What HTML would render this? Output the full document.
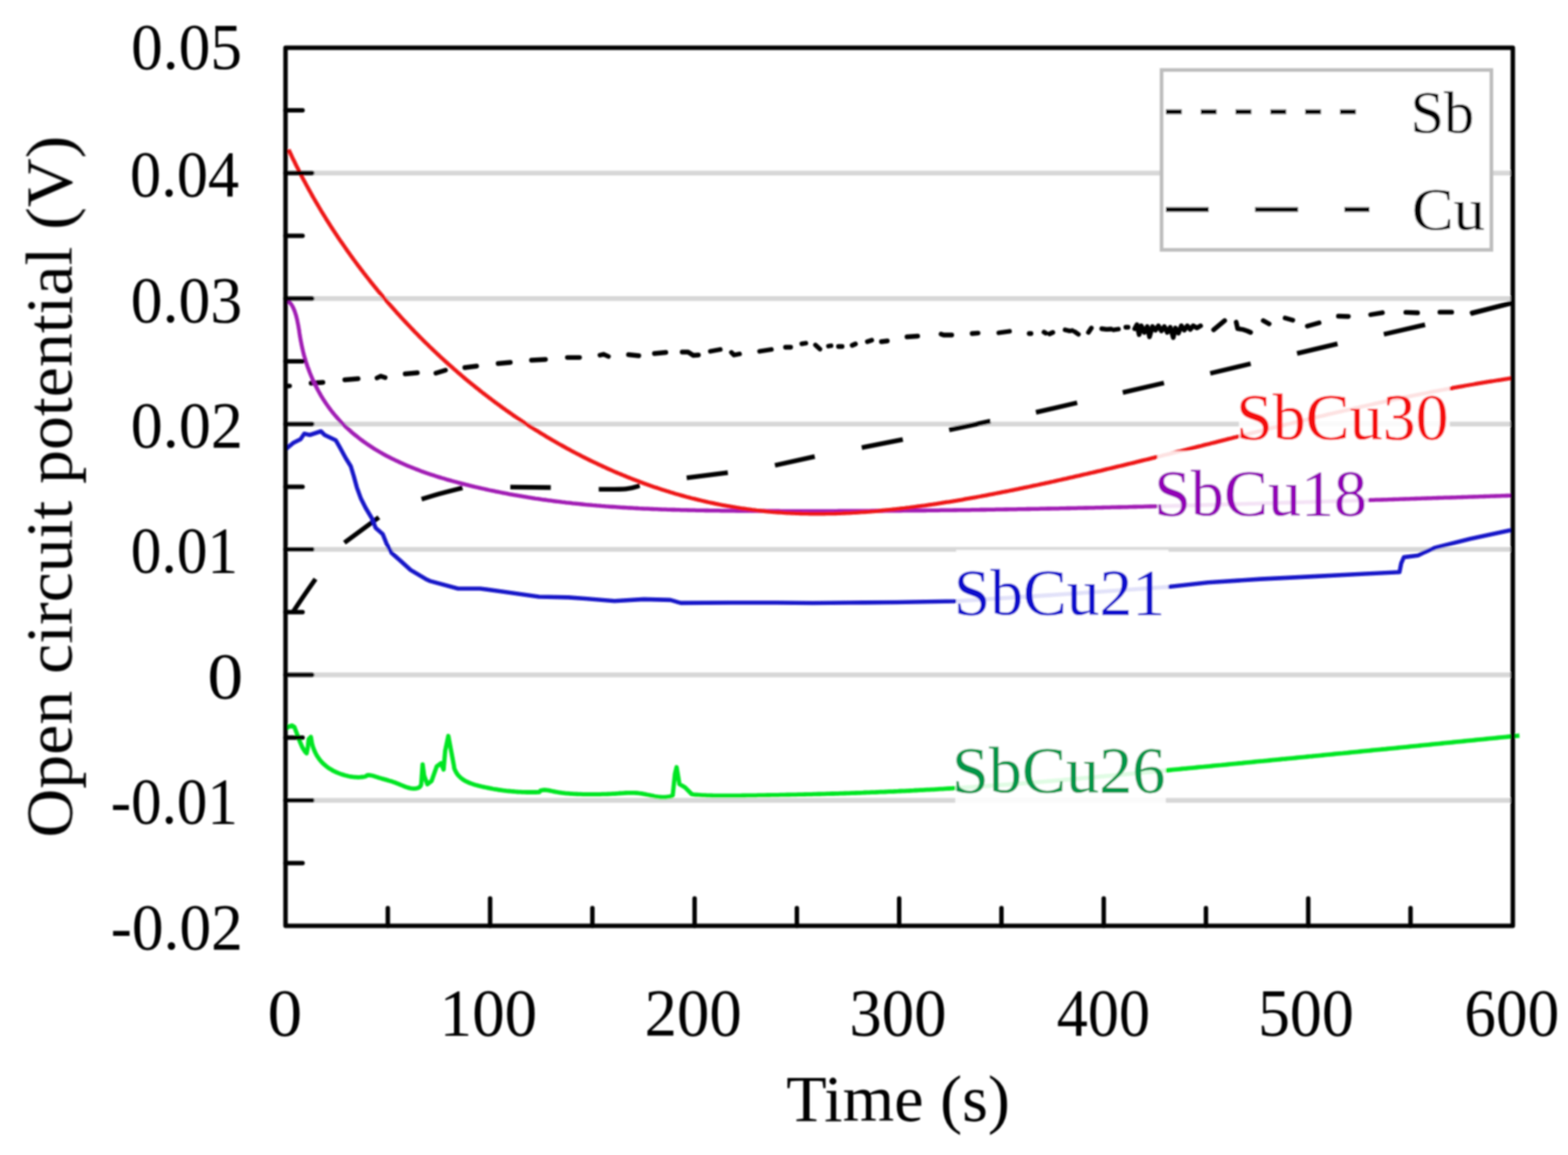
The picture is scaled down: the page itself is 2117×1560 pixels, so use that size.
<!DOCTYPE html>
<html><head><meta charset="utf-8"><title>Open circuit potential vs time</title>
<style>html,body{margin:0;padding:0;background:#fff;}svg{display:block;}</style>
</head><body>
<svg width="2117" height="1560" viewBox="0 0 2117 1560">
<defs><filter id="soft" x="-1%" y="-1%" width="102%" height="102%"><feGaussianBlur stdDeviation="1.3"/></filter></defs>
<rect x="0" y="0" width="2117" height="1560" fill="#fff"/>
<g filter="url(#soft)">
<line x1="387.5" y1="233.8" x2="2040.5" y2="233.8" stroke="#d7d7d7" stroke-width="6.5"/>
<line x1="387.5" y1="403.3" x2="2040.5" y2="403.3" stroke="#d7d7d7" stroke-width="6.5"/>
<line x1="387.5" y1="572.7" x2="2040.5" y2="572.7" stroke="#d7d7d7" stroke-width="6.5"/>
<line x1="387.5" y1="742.1" x2="2040.5" y2="742.1" stroke="#d7d7d7" stroke-width="6.5"/>
<line x1="387.5" y1="911.5" x2="2040.5" y2="911.5" stroke="#d7d7d7" stroke-width="6.5"/>
<line x1="387.5" y1="1081.0" x2="2040.5" y2="1081.0" stroke="#d7d7d7" stroke-width="6.5"/>
<path d="M386.5,521.3 L391.0,521.3" fill="none" stroke="#000" stroke-width="6.3" stroke-linecap="round" stroke-linejoin="round"/>
<path d="M420.0,517.5 L436.0,516.5" fill="none" stroke="#000" stroke-width="6.3" stroke-linecap="round" stroke-linejoin="round"/>
<path d="M465.5,513.0 L483.5,511.5" fill="none" stroke="#000" stroke-width="6.3" stroke-linecap="round" stroke-linejoin="round"/>
<path d="M509.0,510.5 L514.0,508.0 L520.0,510.0" fill="none" stroke="#000" stroke-width="6.3" stroke-linecap="round" stroke-linejoin="round"/>
<path d="M547.0,505.0 L563.5,503.5" fill="none" stroke="#000" stroke-width="6.3" stroke-linecap="round" stroke-linejoin="round"/>
<path d="M588.5,504.0 L601.5,500.0" fill="none" stroke="#000" stroke-width="6.3" stroke-linecap="round" stroke-linejoin="round"/>
<path d="M627.5,496.5 L643.5,494.5" fill="none" stroke="#000" stroke-width="6.3" stroke-linecap="round" stroke-linejoin="round"/>
<path d="M672.5,491.0 L689.0,489.5" fill="none" stroke="#000" stroke-width="6.3" stroke-linecap="round" stroke-linejoin="round"/>
<path d="M717.5,486.5 L736.5,485.5" fill="none" stroke="#000" stroke-width="6.3" stroke-linecap="round" stroke-linejoin="round"/>
<path d="M766.0,482.8 L782.5,482.8" fill="none" stroke="#000" stroke-width="6.3" stroke-linecap="round" stroke-linejoin="round"/>
<path d="M810.0,479.8 L815.0,478.5 L821.5,481.5" fill="none" stroke="#000" stroke-width="6.3" stroke-linecap="round" stroke-linejoin="round"/>
<path d="M848.5,479.0 L862.5,480.5" fill="none" stroke="#000" stroke-width="6.3" stroke-linecap="round" stroke-linejoin="round"/>
<path d="M883.5,477.5 L899.0,476.0" fill="none" stroke="#000" stroke-width="6.3" stroke-linecap="round" stroke-linejoin="round"/>
<path d="M921.0,475.5 L929.0,475.5 L936.0,480.0 L943.0,479.5" fill="none" stroke="#000" stroke-width="6.3" stroke-linecap="round" stroke-linejoin="round"/>
<path d="M959.0,474.5 L972.5,472.0" fill="none" stroke="#000" stroke-width="6.3" stroke-linecap="round" stroke-linejoin="round"/>
<path d="M987.5,476.0 L991.0,479.5 L998.5,478.0" fill="none" stroke="#000" stroke-width="6.3" stroke-linecap="round" stroke-linejoin="round"/>
<path d="M1025.5,474.5 L1041.5,472.0" fill="none" stroke="#000" stroke-width="6.3" stroke-linecap="round" stroke-linejoin="round"/>
<path d="M1060.5,469.0 L1067.5,469.0" fill="none" stroke="#000" stroke-width="6.3" stroke-linecap="round" stroke-linejoin="round"/>
<path d="M1082.5,464.3 L1088.0,463.5" fill="none" stroke="#000" stroke-width="6.3" stroke-linecap="round" stroke-linejoin="round"/>
<path d="M1101.0,466.0 L1107.0,471.5" fill="none" stroke="#000" stroke-width="6.3" stroke-linecap="round" stroke-linejoin="round"/>
<path d="M1118.5,467.5 L1122.0,467.0" fill="none" stroke="#000" stroke-width="6.3" stroke-linecap="round" stroke-linejoin="round"/>
<path d="M1132.0,468.0 L1137.0,468.0" fill="none" stroke="#000" stroke-width="6.3" stroke-linecap="round" stroke-linejoin="round"/>
<path d="M1150.5,466.5 L1155.0,464.5" fill="none" stroke="#000" stroke-width="6.3" stroke-linecap="round" stroke-linejoin="round"/>
<path d="M1171.0,461.5 L1177.0,459.5" fill="none" stroke="#000" stroke-width="6.3" stroke-linecap="round" stroke-linejoin="round"/>
<path d="M1190.0,461.5 L1198.0,460.5" fill="none" stroke="#000" stroke-width="6.3" stroke-linecap="round" stroke-linejoin="round"/>
<path d="M1224.5,455.0 L1239.0,454.0" fill="none" stroke="#000" stroke-width="6.3" stroke-linecap="round" stroke-linejoin="round"/>
<path d="M1270.5,451.2 L1274.0,452.5 L1285.0,452.5" fill="none" stroke="#000" stroke-width="6.3" stroke-linecap="round" stroke-linejoin="round"/>
<path d="M1312.5,450.5 L1320.5,449.8" fill="none" stroke="#000" stroke-width="6.3" stroke-linecap="round" stroke-linejoin="round"/>
<path d="M1348.5,449.5 L1363.0,447.5" fill="none" stroke="#000" stroke-width="6.3" stroke-linecap="round" stroke-linejoin="round"/>
<path d="M1389.5,450.5 L1392.0,450.5" fill="none" stroke="#000" stroke-width="6.3" stroke-linecap="round" stroke-linejoin="round"/>
<path d="M1409.5,448.5 L1412.0,450.0" fill="none" stroke="#000" stroke-width="6.3" stroke-linecap="round" stroke-linejoin="round"/>
<path d="M1417.0,451.0 L1421.5,449.0" fill="none" stroke="#000" stroke-width="6.3" stroke-linecap="round" stroke-linejoin="round"/>
<path d="M1438.0,445.5 L1444.0,447.0 L1447.5,446.5" fill="none" stroke="#000" stroke-width="6.3" stroke-linecap="round" stroke-linejoin="round"/>
<path d="M1451.0,448.0 L1456.0,451.5" fill="none" stroke="#000" stroke-width="6.3" stroke-linecap="round" stroke-linejoin="round"/>
<path d="M1469.5,449.0 L1473.5,443.0" fill="none" stroke="#000" stroke-width="6.3" stroke-linecap="round" stroke-linejoin="round"/>
<path d="M1487.5,444.0 L1494.0,444.8 L1500.0,444.5" fill="none" stroke="#000" stroke-width="6.3" stroke-linecap="round" stroke-linejoin="round"/>
<path d="M1503.5,445.5 L1510.0,444.5" fill="none" stroke="#000" stroke-width="6.3" stroke-linecap="round" stroke-linejoin="round"/>
<path d="M1520.0,442.0 L1523.0,442.0" fill="none" stroke="#000" stroke-width="6.3" stroke-linecap="round" stroke-linejoin="round"/>
<path d="M1532.0,444.0 L1535.0,438.5 L1538.0,452.0 L1541.0,440.0 L1545.0,449.0 L1549.0,441.0 L1552.0,455.0 L1556.0,441.0 L1560.0,446.0 L1564.0,440.0 L1568.0,447.0 L1572.0,441.0 L1576.0,449.0 L1580.0,442.0 L1584.0,456.0 L1587.0,443.0 L1591.0,450.0 L1595.0,440.0 L1599.0,446.0 L1603.0,440.0 L1607.0,445.0 L1611.0,440.0 L1616.0,443.0 L1621.0,440.0" fill="none" stroke="#000" stroke-width="6.3" stroke-linecap="round" stroke-linejoin="round"/>
<path d="M1638.5,445.5 L1653.5,433.0" fill="none" stroke="#000" stroke-width="6.3" stroke-linecap="round" stroke-linejoin="round"/>
<path d="M1669.0,435.0 L1671.0,444.0 L1678.0,445.0 L1684.0,447.0 L1688.5,449.0" fill="none" stroke="#000" stroke-width="6.3" stroke-linecap="round" stroke-linejoin="round"/>
<path d="M1705.5,433.0 L1713.5,437.5" fill="none" stroke="#000" stroke-width="6.3" stroke-linecap="round" stroke-linejoin="round"/>
<path d="M1735.0,429.5 L1745.5,432.5" fill="none" stroke="#000" stroke-width="6.3" stroke-linecap="round" stroke-linejoin="round"/>
<path d="M1765.0,440.5 L1781.0,436.0" fill="none" stroke="#000" stroke-width="6.3" stroke-linecap="round" stroke-linejoin="round"/>
<path d="M1807.0,427.0 L1820.5,427.5" fill="none" stroke="#000" stroke-width="6.3" stroke-linecap="round" stroke-linejoin="round"/>
<path d="M1850.5,425.0 L1866.5,422.3" fill="none" stroke="#000" stroke-width="6.3" stroke-linecap="round" stroke-linejoin="round"/>
<path d="M1898.0,421.8 L1914.0,422.5" fill="none" stroke="#000" stroke-width="6.3" stroke-linecap="round" stroke-linejoin="round"/>
<path d="M1944.0,421.7 L1960.0,421.7" fill="none" stroke="#000" stroke-width="6.3" stroke-linecap="round" stroke-linejoin="round"/>
<path d="M1987.5,422.5 L2006.0,418.0 L2038.0,410.0" fill="none" stroke="#000" stroke-width="6.3" stroke-linecap="round" stroke-linejoin="round"/>
<path d="M396.0,826.0 C398.3,822.5 405.0,812.3 410.0,805.0 C415.0,797.7 423.3,785.8 426.0,782.0" fill="none" stroke="#000" stroke-width="6.3" stroke-linecap="butt"/>
<path d="M465.0,733.0 L511.5,698.8" fill="none" stroke="#000" stroke-width="6.3" stroke-linecap="butt"/>
<path d="M569.2,674.2 C573.8,672.8 587.8,668.5 597.0,666.0 C606.2,663.5 619.8,660.1 624.4,658.9" fill="none" stroke="#000" stroke-width="6.3" stroke-linecap="butt"/>
<path d="M689.0,657.9 L743.6,658.5" fill="none" stroke="#000" stroke-width="6.3" stroke-linecap="butt"/>
<path d="M808.4,660.9 C814.5,660.8 835.8,661.2 845.0,660.4 C854.2,659.6 860.6,656.7 863.7,656.0" fill="none" stroke="#000" stroke-width="6.3" stroke-linecap="butt"/>
<path d="M927.1,645.4 L982.7,638.4" fill="none" stroke="#000" stroke-width="6.3" stroke-linecap="butt"/>
<path d="M1046.3,628.5 L1100.0,616.6" fill="none" stroke="#000" stroke-width="6.3" stroke-linecap="butt"/>
<path d="M1163.5,604.6 L1218.9,593.7" fill="none" stroke="#000" stroke-width="6.3" stroke-linecap="butt"/>
<path d="M1281.5,580.7 L1337.1,568.8" fill="none" stroke="#000" stroke-width="6.3" stroke-linecap="butt"/>
<path d="M1398.7,556.9 L1454.3,544.0" fill="none" stroke="#000" stroke-width="6.3" stroke-linecap="butt"/>
<path d="M1515.9,530.1 L1571.5,517.2" fill="none" stroke="#000" stroke-width="6.3" stroke-linecap="butt"/>
<path d="M1634.0,504.2 L1688.6,491.3" fill="none" stroke="#000" stroke-width="6.3" stroke-linecap="butt"/>
<path d="M1751.2,477.4 L1805.8,464.4" fill="none" stroke="#000" stroke-width="6.3" stroke-linecap="butt"/>
<path d="M1868.4,451.5 L1924.0,438.6" fill="none" stroke="#000" stroke-width="6.3" stroke-linecap="butt"/>
<path d="M1985.6,423.7 L2039.3,409.8" fill="none" stroke="#000" stroke-width="6.3" stroke-linecap="butt"/>
<path d="M385.8,408.7 L388.2,407.6 L390.1,407.8 L391.7,409.1 L393.1,410.9 L394.4,412.9 L395.6,415.1 L396.6,417.3 L397.6,419.6 L398.4,422.0 L399.2,424.5 L400.0,427.1 L400.6,429.7 L401.3,432.4 L401.8,435.2 L402.4,438.0 L402.9,440.9 L403.4,443.8 L403.9,446.7 L404.3,449.7 L404.8,452.7 L405.3,455.7 L405.8,458.8 L406.4,461.8 L407.0,464.8 L407.6,467.9 L408.3,470.9 L409.0,474.0 L409.7,477.0 L410.5,480.1 L411.4,483.1 L412.3,486.1 L413.2,489.1 L414.2,492.1 L415.2,495.1 L416.3,498.0 L417.4,501.0 L418.5,503.9 L419.7,506.8 L420.9,509.7 L422.2,512.6 L423.5,515.4 L424.8,518.2 L426.2,521.0 L427.6,523.8 L429.0,526.5 L430.5,529.2 L432.0,531.9 L433.5,534.6 L435.1,537.2 L436.7,539.8 L438.4,542.3 L440.0,544.8 L441.8,547.3 L443.5,549.7 L445.3,552.1 L447.1,554.5 L448.9,556.8 L450.8,559.1 L452.7,561.4 L454.6,563.6 L456.5,565.8 L458.5,568.0 L460.5,570.1 L462.6,572.2 L464.6,574.3 L466.7,576.3 L468.8,578.3 L471.0,580.3 L473.2,582.3 L475.3,584.2 L477.6,586.1 L479.8,587.9 L482.1,589.7 L484.4,591.5 L486.7,593.3 L489.0,595.0 L491.4,596.8 L493.7,598.4 L496.1,600.1 L498.6,601.7 L501.0,603.3 L503.5,604.9 L505.9,606.5 L508.4,608.0 L511.0,609.5 L513.5,611.0 L516.1,612.4 L518.6,613.9 L521.2,615.3 L523.8,616.7 L526.5,618.0 L529.1,619.4 L531.8,620.7 L534.4,622.0 L537.1,623.2 L539.8,624.5 L542.5,625.7 L545.2,626.9 L548.0,628.1 L550.7,629.3 L553.5,630.4 L556.3,631.5 L559.1,632.6 L561.9,633.7 L564.7,634.8 L567.5,635.9 L570.3,636.9 L573.2,637.9 L576.0,638.9 L578.9,639.9 L581.8,640.9 L584.6,641.8 L587.5,642.8 L590.4,643.7 L593.3,644.6 L596.2,645.5 L599.1,646.3 L602.0,647.2 L604.9,648.1 L607.8,648.9 L610.8,649.7 L613.7,650.5 L616.6,651.3 L619.6,652.1 L622.5,652.9 L625.4,653.6 L628.4,654.4 L631.3,655.1 L634.3,655.9 L637.2,656.6 L640.2,657.3 L643.1,658.0 L646.0,658.7 L649.0,659.3 L651.9,660.0 L654.9,660.7 L657.8,661.3 L660.8,662.0 L663.7,662.6 L666.7,663.2 L669.6,663.8 L672.6,664.4 L675.6,665.0 L678.5,665.6 L681.5,666.2 L684.4,666.7 L687.4,667.3 L690.3,667.8 L693.3,668.4 L696.2,668.9 L699.2,669.4 L702.2,669.9 L705.1,670.4 L708.1,670.9 L711.0,671.4 L714.0,671.9 L717.0,672.3 L719.9,672.8 L722.9,673.3 L725.9,673.7 L728.8,674.1 L731.8,674.6 L734.8,675.0 L737.7,675.4 L740.7,675.8 L743.7,676.2 L746.6,676.6 L749.6,677.0 L752.6,677.3 L755.5,677.7 L758.5,678.1 L761.5,678.4 L764.5,678.8 L767.4,679.1 L770.4,679.4 L773.4,679.8 L776.4,680.1 L779.3,680.4 L782.3,680.7 L785.3,681.0 L788.3,681.3 L791.2,681.6 L794.2,681.8 L797.2,682.1 L800.2,682.4 L803.2,682.6 L806.1,682.9 L809.1,683.1 L812.1,683.4 L815.1,683.6 L818.1,683.9 L821.0,684.1 L824.0,684.3 L827.0,684.5 L830.0,684.7 L833.0,684.9 L835.9,685.1 L838.9,685.3 L841.9,685.5 L844.9,685.7 L847.9,685.9 L850.9,686.0 L853.9,686.2 L856.8,686.4 L859.8,686.5 L862.8,686.7 L865.8,686.8 L868.8,687.0 L871.8,687.1 L874.8,687.2 L877.8,687.4 L880.7,687.5 L883.7,687.6 L886.7,687.7 L889.7,687.8 L892.7,688.0 L895.7,688.1 L898.7,688.2 L901.7,688.3 L904.7,688.4 L907.7,688.5 L910.6,688.5 L913.6,688.6 L916.6,688.7 L919.6,688.8 L922.6,688.9 L925.6,688.9 L928.6,689.0 L931.6,689.1 L934.6,689.1 L937.6,689.2 L940.6,689.3 L943.6,689.3 L946.6,689.4 L949.5,689.4 L952.5,689.5 L955.5,689.5 L958.5,689.6 L961.5,689.6 L964.5,689.7 L967.5,689.7 L970.5,689.7 L973.5,689.8 L976.5,689.8 L979.5,689.8 L982.5,689.9 L985.5,689.9 L988.5,689.9 L991.5,689.9 L994.5,690.0 L997.5,690.0 L1000.5,690.0 L1003.5,690.0 L1006.5,690.0 L1009.4,690.1 L1012.4,690.1 L1015.4,690.1 L1018.4,690.1 L1021.4,690.1 L1024.4,690.1 L1027.4,690.2 L1030.4,690.2 L1033.4,690.2 L1036.4,690.2 L1039.4,690.2 L1042.4,690.2 L1045.4,690.2 L1048.4,690.2 L1051.4,690.2 L1054.4,690.3 L1057.4,690.3 L1060.4,690.3 L1063.4,690.3 L1066.4,690.3 L1069.4,690.3 L1072.4,690.3 L1075.4,690.3 L1078.4,690.3 L1081.3,690.3 L1084.3,690.3 L1087.3,690.3 L1090.3,690.3 L1093.3,690.3 L1096.3,690.3 L1099.3,690.3 L1102.3,690.3 L1105.3,690.3 L1108.3,690.3 L1111.3,690.3 L1114.3,690.3 L1117.3,690.3 L1120.3,690.3 L1123.3,690.3 L1126.3,690.3 L1129.3,690.3 L1132.3,690.2 L1135.3,690.2 L1138.3,690.2 L1141.3,690.2 L1144.3,690.2 L1147.3,690.2 L1150.3,690.2 L1153.3,690.2 L1156.3,690.2 L1159.3,690.1 L1162.3,690.1 L1165.2,690.1 L1168.2,690.1 L1171.2,690.1 L1174.2,690.1 L1177.2,690.0 L1180.2,690.0 L1183.2,690.0 L1186.2,690.0 L1189.2,690.0 L1192.2,690.0 L1195.2,689.9 L1198.2,689.9 L1201.2,689.9 L1204.2,689.9 L1207.2,689.8 L1210.2,689.8 L1213.2,689.8 L1216.2,689.8 L1219.2,689.7 L1222.2,689.7 L1225.2,689.7 L1228.2,689.7 L1231.2,689.6 L1234.2,689.6 L1237.2,689.6 L1240.2,689.6 L1243.2,689.5 L1246.2,689.5 L1249.2,689.5 L1252.1,689.4 L1255.1,689.4 L1258.1,689.4 L1261.1,689.3 L1264.1,689.3 L1267.1,689.3 L1270.1,689.2 L1273.1,689.2 L1276.1,689.2 L1279.1,689.1 L1282.1,689.1 L1285.1,689.1 L1288.1,689.0 L1291.1,689.0 L1294.1,688.9 L1297.1,688.9 L1300.1,688.9 L1303.1,688.8 L1306.1,688.8 L1309.1,688.8 L1312.1,688.7 L1315.1,688.7 L1318.1,688.6 L1321.1,688.6 L1324.1,688.5 L1327.1,688.5 L1330.1,688.5 L1333.1,688.4 L1336.1,688.4 L1339.1,688.3 L1342.1,688.3 L1345.0,688.2 L1348.0,688.2 L1351.0,688.1 L1354.0,688.1 L1357.0,688.0 L1360.0,688.0 L1363.0,687.9 L1366.0,687.9 L1369.0,687.8 L1372.0,687.8 L1375.0,687.7 L1378.0,687.7 L1381.0,687.6 L1384.0,687.6 L1387.0,687.5 L1390.0,687.5 L1393.0,687.4 L1396.0,687.4 L1399.0,687.3 L1402.0,687.3 L1405.0,687.2 L1408.0,687.2 L1411.0,687.1 L1414.0,687.0 L1417.0,687.0 L1420.0,686.9 L1423.0,686.9 L1426.0,686.8 L1429.0,686.8 L1432.0,686.7 L1435.0,686.6 L1437.9,686.6 L1440.9,686.5 L1443.9,686.5 L1446.9,686.4 L1449.9,686.3 L1452.9,686.3 L1455.9,686.2 L1458.9,686.1 L1461.9,686.1 L1464.9,686.0 L1467.9,686.0 L1470.9,685.9 L1473.9,685.8 L1476.9,685.8 L1479.9,685.7 L1482.9,685.6 L1485.9,685.6 L1488.9,685.5 L1491.9,685.4 L1494.9,685.4 L1497.9,685.3 L1500.9,685.2 L1503.9,685.2 L1506.9,685.1 L1509.9,685.0 L1512.9,685.0 L1515.9,684.9 L1518.9,684.8 L1521.9,684.8 L1524.9,684.7 L1527.8,684.6 L1530.8,684.5 L1533.8,684.5 L1536.8,684.4 L1539.8,684.3 L1542.8,684.3 L1545.8,684.2 L1548.8,684.1 L1551.8,684.0 L1554.8,684.0 L1557.8,683.9 L1560.8,683.8 L1563.8,683.7 L1566.8,683.7 L1569.8,683.6 L1572.8,683.5 L1575.8,683.4 L1578.8,683.4 L1581.8,683.3 L1584.8,683.2 L1587.8,683.1 L1590.8,683.1 L1593.8,683.0 L1596.8,682.9 L1599.8,682.8 L1602.8,682.7 L1605.8,682.7 L1608.7,682.6 L1611.7,682.5 L1614.7,682.4 L1617.7,682.3 L1620.7,682.3 L1623.7,682.2 L1626.7,682.1 L1629.7,682.0 L1632.7,681.9 L1635.7,681.9 L1638.7,681.8 L1641.7,681.7 L1644.7,681.6 L1647.7,681.5 L1650.7,681.5 L1653.7,681.4 L1656.7,681.3 L1659.7,681.2 L1662.7,681.1 L1665.7,681.0 L1668.7,681.0 L1671.7,680.9 L1674.7,680.8 L1677.7,680.7 L1680.7,680.6 L1683.6,680.5 L1686.6,680.4 L1689.6,680.4 L1692.6,680.3 L1695.6,680.2 L1698.6,680.1 L1701.6,680.0 L1704.6,679.9 L1707.6,679.8 L1710.6,679.7 L1713.6,679.7 L1716.6,679.6 L1719.6,679.5 L1722.6,679.4 L1725.6,679.3 L1728.6,679.2 L1731.6,679.1 L1734.6,679.0 L1737.6,679.0 L1740.6,678.9 L1743.6,678.8 L1746.6,678.7 L1749.5,678.6 L1752.5,678.5 L1755.5,678.4 L1758.5,678.3 L1761.5,678.2 L1764.5,678.1 L1767.5,678.1 L1770.5,678.0 L1773.5,677.9 L1776.5,677.8 L1779.5,677.7 L1782.5,677.6 L1785.5,677.5 L1788.5,677.4 L1791.5,677.3 L1794.5,677.2 L1797.5,677.1 L1800.5,677.0 L1803.5,676.9 L1806.5,676.9 L1809.4,676.8 L1812.4,676.7 L1815.4,676.6 L1818.4,676.5 L1821.4,676.4 L1824.4,676.3 L1827.4,676.2 L1830.4,676.1 L1833.4,676.0 L1836.4,675.9 L1839.4,675.8 L1842.4,675.7 L1845.4,675.6 L1848.4,675.5 L1851.4,675.4 L1854.4,675.3 L1857.4,675.2 L1860.4,675.2 L1863.4,675.1 L1866.3,675.0 L1869.3,674.9 L1872.3,674.8 L1875.3,674.7 L1878.3,674.6 L1881.3,674.5 L1884.3,674.4 L1887.3,674.3 L1890.3,674.2 L1893.3,674.1 L1896.3,674.0 L1899.3,673.9 L1902.3,673.8 L1905.3,673.7 L1908.3,673.6 L1911.3,673.5 L1914.3,673.4 L1917.2,673.3 L1920.2,673.2 L1923.2,673.1 L1926.2,673.0 L1929.2,672.9 L1932.2,672.8 L1935.2,672.7 L1938.2,672.6 L1941.2,672.5 L1944.2,672.4 L1947.2,672.3 L1950.2,672.2 L1953.2,672.1 L1956.2,672.1 L1959.2,672.0 L1962.1,671.9 L1965.1,671.8 L1968.1,671.7 L1971.1,671.6 L1974.1,671.5 L1977.1,671.4 L1980.1,671.3 L1983.1,671.2 L1986.1,671.1 L1989.1,671.0 L1992.1,670.9 L1995.1,670.8 L1998.1,670.7 L2001.1,670.6 L2004.1,670.5 L2007.0,670.4 L2010.0,670.3 L2013.0,670.2 L2016.0,670.1 L2019.0,670.0 L2022.0,669.9 L2025.0,669.8 L2028.0,669.7 L2031.0,669.6 L2034.0,669.5 L2037.0,669.4 L2040.0,669.3" fill="none" stroke="#a01ab4" stroke-width="5.3" stroke-linejoin="round"/>
<path d="M389.7,202.0 L390.9,204.7 L392.1,207.3 L393.4,209.9 L394.6,212.6 L395.9,215.2 L397.2,217.8 L398.5,220.5 L399.7,223.1 L401.1,225.7 L402.4,228.3 L403.7,230.9 L405.0,233.6 L406.4,236.2 L407.7,238.8 L409.1,241.4 L410.5,244.0 L411.9,246.6 L413.3,249.2 L414.7,251.7 L416.1,254.3 L417.5,256.9 L419.0,259.5 L420.4,262.1 L421.8,264.6 L423.3,267.2 L424.8,269.8 L426.3,272.3 L427.8,274.9 L429.3,277.4 L430.8,280.0 L432.3,282.5 L433.8,285.1 L435.4,287.6 L436.9,290.1 L438.5,292.7 L440.0,295.2 L441.6,297.7 L443.2,300.2 L444.8,302.7 L446.4,305.3 L448.0,307.8 L449.6,310.3 L451.3,312.8 L452.9,315.2 L454.6,317.7 L456.2,320.2 L457.9,322.7 L459.6,325.2 L461.3,327.6 L463.0,330.1 L464.7,332.5 L466.4,335.0 L468.1,337.4 L469.8,339.9 L471.6,342.3 L473.3,344.8 L475.1,347.2 L476.8,349.6 L478.6,352.0 L480.4,354.5 L482.2,356.9 L484.0,359.3 L485.8,361.7 L487.6,364.1 L489.4,366.4 L491.2,368.8 L493.1,371.2 L494.9,373.6 L496.8,375.9 L498.7,378.3 L500.5,380.7 L502.4,383.0 L504.3,385.4 L506.2,387.7 L508.1,390.0 L510.0,392.4 L512.0,394.7 L513.9,397.0 L515.8,399.3 L517.8,401.6 L519.7,403.9 L521.7,406.2 L523.7,408.5 L525.6,410.8 L527.6,413.0 L529.6,415.3 L531.6,417.6 L533.6,419.8 L535.6,422.1 L537.7,424.3 L539.7,426.6 L541.7,428.8 L543.8,431.0 L545.8,433.2 L547.9,435.4 L550.0,437.7 L552.1,439.8 L554.1,442.0 L556.2,444.2 L558.3,446.4 L560.4,448.6 L562.5,450.7 L564.7,452.9 L566.8,455.1 L568.9,457.2 L571.1,459.3 L573.2,461.5 L575.4,463.6 L577.6,465.7 L579.7,467.8 L581.9,469.9 L584.1,472.0 L586.3,474.1 L588.5,476.2 L590.7,478.3 L592.9,480.3 L595.1,482.4 L597.4,484.4 L599.6,486.5 L601.8,488.5 L604.1,490.5 L606.3,492.6 L608.6,494.6 L610.9,496.6 L613.1,498.6 L615.4,500.6 L617.7,502.6 L620.0,504.5 L622.3,506.5 L624.6,508.5 L626.9,510.4 L629.2,512.4 L631.6,514.3 L633.9,516.2 L636.2,518.1 L638.6,520.0 L640.9,521.9 L643.3,523.8 L645.7,525.7 L648.0,527.6 L650.4,529.5 L652.8,531.3 L655.2,533.2 L657.6,535.0 L660.0,536.9 L662.4,538.7 L664.8,540.5 L667.2,542.3 L669.6,544.1 L672.1,545.9 L674.5,547.7 L677.0,549.5 L679.4,551.3 L681.9,553.0 L684.3,554.8 L686.8,556.5 L689.3,558.2 L691.7,560.0 L694.2,561.7 L696.7,563.4 L699.2,565.1 L701.7,566.8 L704.2,568.4 L706.7,570.1 L709.2,571.8 L711.7,573.4 L714.3,575.0 L716.8,576.7 L719.3,578.3 L721.9,579.9 L724.4,581.5 L727.0,583.1 L729.5,584.7 L732.1,586.3 L734.7,587.8 L737.3,589.4 L739.8,590.9 L742.4,592.4 L745.0,594.0 L747.6,595.5 L750.2,597.0 L752.8,598.5 L755.4,600.0 L758.0,601.4 L760.6,602.9 L763.3,604.4 L765.9,605.8 L768.5,607.2 L771.2,608.7 L773.8,610.1 L776.5,611.5 L779.1,612.9 L781.8,614.2 L784.4,615.6 L787.1,617.0 L789.8,618.3 L792.4,619.7 L795.1,621.0 L797.8,622.3 L800.5,623.6 L803.2,624.9 L805.9,626.2 L808.6,627.5 L811.3,628.7 L814.0,630.0 L816.7,631.2 L819.4,632.5 L822.2,633.7 L824.9,634.9 L827.6,636.1 L830.3,637.3 L833.1,638.5 L835.8,639.6 L838.6,640.8 L841.3,641.9 L844.1,643.0 L846.8,644.2 L849.6,645.3 L852.4,646.4 L855.1,647.5 L857.9,648.5 L860.7,649.6 L863.5,650.6 L866.3,651.7 L869.0,652.7 L871.8,653.7 L874.6,654.7 L877.4,655.7 L880.2,656.7 L883.0,657.7 L885.9,658.6 L888.7,659.6 L891.5,660.5 L894.3,661.4 L897.1,662.3 L900.0,663.2 L902.8,664.1 L905.6,665.0 L908.5,665.8 L911.3,666.7 L914.1,667.5 L917.0,668.3 L919.8,669.1 L922.7,669.9 L925.6,670.7 L928.4,671.5 L931.3,672.2 L934.1,673.0 L937.0,673.7 L939.9,674.4 L942.8,675.1 L945.6,675.8 L948.5,676.5 L951.4,677.2 L954.3,677.8 L957.2,678.5 L960.1,679.1 L963.0,679.7 L965.9,680.3 L968.8,680.9 L971.7,681.5 L974.6,682.1 L977.5,682.6 L980.4,683.2 L983.3,683.7 L986.2,684.2 L989.1,684.7 L992.0,685.2 L995.0,685.7 L997.9,686.1 L1000.8,686.6 L1003.7,687.0 L1006.7,687.4 L1009.6,687.8 L1012.5,688.2 L1015.5,688.6 L1018.4,688.9 L1021.4,689.3 L1024.3,689.6 L1027.2,689.9 L1030.2,690.2 L1033.1,690.5 L1036.1,690.8 L1039.0,691.1 L1042.0,691.3 L1045.0,691.6 L1047.9,691.8 L1050.9,692.0 L1053.8,692.2 L1056.8,692.4 L1059.8,692.6 L1062.7,692.8 L1065.7,692.9 L1068.7,693.1 L1071.7,693.2 L1074.6,693.3 L1077.6,693.4 L1080.6,693.5 L1083.6,693.6 L1086.5,693.7 L1089.5,693.7 L1092.5,693.8 L1095.5,693.8 L1098.5,693.8 L1101.5,693.8 L1104.4,693.8 L1107.4,693.8 L1110.4,693.8 L1113.4,693.8 L1116.4,693.7 L1119.4,693.7 L1122.4,693.6 L1125.4,693.6 L1128.4,693.5 L1131.4,693.4 L1134.4,693.3 L1137.4,693.2 L1140.4,693.0 L1143.4,692.9 L1146.4,692.8 L1149.4,692.6 L1152.4,692.4 L1155.4,692.3 L1158.4,692.1 L1161.4,691.9 L1164.4,691.7 L1167.4,691.5 L1170.4,691.3 L1173.4,691.1 L1176.4,690.8 L1179.4,690.6 L1182.4,690.3 L1185.4,690.1 L1188.4,689.8 L1191.4,689.5 L1194.5,689.2 L1197.5,688.9 L1200.5,688.6 L1203.5,688.3 L1206.5,688.0 L1209.5,687.7 L1212.5,687.3 L1215.5,687.0 L1218.5,686.6 L1221.5,686.3 L1224.5,685.9 L1227.6,685.6 L1230.6,685.2 L1233.6,684.8 L1236.6,684.4 L1239.6,684.0 L1242.6,683.6 L1245.6,683.2 L1248.6,682.8 L1251.6,682.3 L1254.6,681.9 L1257.6,681.5 L1260.6,681.0 L1263.6,680.6 L1266.6,680.1 L1269.6,679.7 L1272.6,679.2 L1275.6,678.7 L1278.6,678.2 L1281.6,677.8 L1284.6,677.3 L1287.6,676.8 L1290.6,676.3 L1293.6,675.8 L1296.6,675.3 L1299.6,674.8 L1302.6,674.2 L1305.6,673.7 L1308.6,673.2 L1311.6,672.6 L1314.6,672.1 L1317.6,671.6 L1320.6,671.0 L1323.6,670.5 L1326.5,669.9 L1329.5,669.4 L1332.5,668.8 L1335.5,668.2 L1338.5,667.7 L1341.5,667.1 L1344.4,666.5 L1347.4,665.9 L1350.4,665.3 L1353.4,664.7 L1356.3,664.2 L1359.3,663.6 L1362.3,663.0 L1365.2,662.4 L1368.2,661.8 L1371.2,661.2 L1374.1,660.6 L1377.1,659.9 L1380.1,659.3 L1383.0,658.7 L1386.0,658.1 L1388.9,657.5 L1391.9,656.9 L1394.8,656.2 L1397.8,655.6 L1400.7,655.0 L1403.7,654.3 L1406.6,653.7 L1409.6,653.1 L1412.5,652.4 L1415.4,651.8 L1418.4,651.1 L1421.3,650.5 L1424.3,649.8 L1427.2,649.2 L1430.1,648.5 L1433.1,647.9 L1436.0,647.2 L1438.9,646.6 L1441.9,645.9 L1444.8,645.2 L1447.7,644.6 L1450.6,643.9 L1453.6,643.2 L1456.5,642.6 L1459.4,641.9 L1462.3,641.2 L1465.3,640.5 L1468.2,639.9 L1471.1,639.2 L1474.0,638.5 L1476.9,637.8 L1479.9,637.1 L1482.8,636.4 L1485.7,635.8 L1488.6,635.1 L1491.5,634.4 L1494.4,633.7 L1497.3,633.0 L1500.2,632.3 L1503.1,631.6 L1506.1,630.9 L1509.0,630.2 L1511.9,629.5 L1514.8,628.8 L1517.7,628.1 L1520.6,627.4 L1523.5,626.7 L1526.4,626.0 L1529.3,625.3 L1532.2,624.6 L1535.1,623.8 L1538.0,623.1 L1540.9,622.4 L1543.8,621.7 L1546.7,621.0 L1549.6,620.3 L1552.5,619.6 L1555.4,618.8 L1558.3,618.1 L1561.2,617.4 L1564.0,616.7 L1566.9,616.0 L1569.8,615.2 L1572.7,614.5 L1575.6,613.8 L1578.5,613.1 L1581.4,612.4 L1584.3,611.6 L1587.2,610.9 L1590.1,610.2 L1593.0,609.5 L1595.9,608.7 L1598.7,608.0 L1601.6,607.3 L1604.5,606.5 L1607.4,605.8 L1610.3,605.1 L1613.2,604.4 L1616.1,603.6 L1619.0,602.9 L1621.8,602.2 L1624.7,601.4 L1627.6,600.7 L1630.5,600.0 L1633.4,599.3 L1636.3,598.5 L1639.2,597.8 L1642.1,597.1 L1644.9,596.3 L1647.8,595.6 L1650.7,594.9 L1653.6,594.2 L1656.5,593.4 L1659.4,592.7 L1662.3,592.0 L1665.1,591.2 L1668.0,590.5 L1670.9,589.8 L1673.8,589.1 L1676.7,588.3 L1679.6,587.6 L1682.5,586.9 L1685.3,586.2 L1688.2,585.4 L1691.1,584.7 L1694.0,584.0 L1696.9,583.3 L1699.8,582.5 L1702.7,581.8 L1705.6,581.1 L1708.5,580.4 L1711.3,579.6 L1714.2,578.9 L1717.1,578.2 L1720.0,577.5 L1722.9,576.8 L1725.8,576.1 L1728.7,575.3 L1731.6,574.6 L1734.5,573.9 L1737.4,573.2 L1740.3,572.5 L1743.2,571.8 L1746.1,571.1 L1748.9,570.4 L1751.8,569.7 L1754.7,569.0 L1757.6,568.2 L1760.5,567.5 L1763.4,566.8 L1766.3,566.1 L1769.2,565.4 L1772.1,564.7 L1775.0,564.0 L1777.9,563.4 L1780.8,562.7 L1783.7,562.0 L1786.7,561.3 L1789.6,560.6 L1792.5,559.9 L1795.4,559.2 L1798.3,558.5 L1801.2,557.8 L1804.1,557.2 L1807.0,556.5 L1809.9,555.8 L1812.8,555.1 L1815.7,554.5 L1818.7,553.8 L1821.6,553.1 L1824.5,552.5 L1827.4,551.8 L1830.3,551.1 L1833.2,550.5 L1836.2,549.8 L1839.1,549.1 L1842.0,548.5 L1844.9,547.8 L1847.9,547.2 L1850.8,546.5 L1853.7,545.9 L1856.6,545.2 L1859.6,544.6 L1862.5,543.9 L1865.4,543.3 L1868.4,542.7 L1871.3,542.0 L1874.2,541.4 L1877.2,540.8 L1880.1,540.1 L1883.0,539.5 L1886.0,538.9 L1888.9,538.3 L1891.9,537.7 L1894.8,537.1 L1897.8,536.4 L1900.7,535.8 L1903.7,535.2 L1906.6,534.6 L1909.6,534.0 L1912.5,533.4 L1915.5,532.8 L1918.4,532.2 L1921.4,531.6 L1924.3,531.1 L1927.3,530.5 L1930.3,529.9 L1933.2,529.3 L1936.2,528.7 L1939.2,528.2 L1942.1,527.6 L1945.1,527.0 L1948.1,526.5 L1951.1,525.9 L1954.0,525.4 L1957.0,524.8 L1960.0,524.3 L1963.0,523.7 L1966.0,523.2 L1968.9,522.6 L1971.9,522.1 L1974.9,521.6 L1977.9,521.0 L1980.9,520.5 L1983.9,520.0 L1986.9,519.5 L1989.9,519.0 L1992.9,518.4 L1995.9,517.9 L1998.9,517.4 L2001.9,516.9 L2004.9,516.4 L2007.9,515.9 L2010.9,515.4 L2013.9,515.0 L2017.0,514.5 L2020.0,514.0 L2023.0,513.5 L2026.0,513.1 L2029.0,512.6 L2032.1,512.1 L2035.1,511.7 L2038.1,511.2 L2041.2,510.8" fill="none" stroke="#ee1515" stroke-width="5.3" stroke-linejoin="round"/>
<path d="M385.8,606.7 L395.8,598.3 L405.8,593.3 L410.8,585.8 L418.3,587.5 L433.3,582.5 L438.3,587.5 L453.5,594.8 L458.8,604.2 L466.9,619.0 L473.6,629.8 L477.7,643.3 L481.7,658.1 L487.1,672.9 L493.8,686.3 L501.9,699.8 L507.3,713.2 L516.7,721.3 L522.1,734.8 L528.8,746.9 L540.9,757.7 L554.4,769.8 L574.6,781.9 L580.0,784.6 L618.4,795.0 L648.2,795.0 L678.0,799.0 L727.7,806.0 L767.4,806.9 L790.0,808.5 L829.7,811.8 L869.4,809.4 L905.1,810.4 L919.0,814.4 L988.4,814.0 L1048.0,814.0 L1097.5,814.5 L1147.1,814.0 L1210.0,813.5 L1290.0,812.0 L1430.0,803.0 L1576.5,792.7 L1630.9,786.8 L1701.7,782.1 L1772.6,778.6 L1843.4,775.0 L1889.5,772.7 L1891.8,760.9 L1895.4,752.6 L1914.3,750.2 L1921.4,746.7 L1937.9,739.6 L1985.1,727.8 L2040.0,716.0" fill="none" stroke="#1712c8" stroke-width="5.6" stroke-linejoin="round"/>
<path d="M386.0,984.0 L390.0,981.5 L394.0,979.8 L397.5,982.0 L401.3,992.0 L405.0,1002.0 L408.3,1009.6 L412.0,1015.5 L414.0,1017.5 L415.5,1010.0 L416.8,998.3 L419.7,995.4 L420.1,997.3 L420.4,999.4 L420.7,1001.4 L421.1,1003.4 L421.6,1005.4 L422.1,1007.3 L422.7,1009.2 L423.4,1011.1 L424.1,1012.9 L424.9,1014.8 L425.7,1016.5 L426.6,1018.3 L427.5,1020.0 L428.5,1021.6 L429.6,1023.2 L430.7,1024.8 L431.9,1026.4 L433.1,1027.8 L434.4,1029.3 L435.7,1030.7 L437.1,1032.0 L438.6,1033.3 L440.1,1034.6 L441.6,1035.8 L443.2,1037.0 L444.9,1038.1 L446.6,1039.1 L448.3,1040.1 L450.1,1041.1 L451.9,1042.0 L453.7,1042.8 L455.5,1043.6 L457.4,1044.4 L459.3,1045.1 L461.2,1045.8 L463.2,1046.4 L465.1,1047.0 L467.1,1047.5 L469.1,1048.0 L471.0,1048.5 L473.0,1048.8 L475.0,1049.2 L477.0,1049.4 L478.9,1049.6 L480.9,1049.7 L482.8,1049.8 L484.7,1049.8 L486.6,1049.7 L488.5,1049.5 L490.3,1049.3 L492.2,1049.0 L494.0,1048.5 L495.6,1047.1 L497.3,1046.9 L499.2,1047.0 L501.1,1047.3 L503.0,1047.8 L505.0,1048.3 L507.0,1049.0 L508.9,1049.6 L510.8,1050.2 L512.7,1050.8 L514.6,1051.3 L516.4,1051.9 L518.3,1052.4 L520.1,1052.9 L521.9,1053.4 L523.7,1053.9 L525.5,1054.5 L527.3,1055.0 L529.2,1055.6 L531.0,1056.2 L532.8,1056.8 L534.7,1057.5 L536.6,1058.3 L538.5,1059.0 L540.4,1059.8 L542.4,1060.6 L544.3,1061.4 L546.3,1062.2 L548.3,1062.9 L550.2,1063.6 L552.1,1064.1 L554.1,1064.6 L556.0,1064.9 L557.8,1065.1 L559.7,1065.1 L561.4,1064.9 L563.2,1064.6 L564.9,1064.0 L566.5,1063.1 L567.8,1061.6 L568.7,1059.4 L570.6,1032.3 L572.7,1047.9 L577.0,1059.2 L582.6,1054.9 L589.7,1035.1 L595.4,1030.9 L598.9,1039.4 L601.1,1013.8 L605.3,994.0 L609.6,1016.7 L613.0,1035.0 L613.2,1037.2 L613.9,1039.2 L614.8,1041.1 L615.7,1042.8 L616.7,1044.5 L617.8,1046.1 L619.0,1047.5 L620.3,1048.9 L621.7,1050.2 L623.1,1051.4 L624.6,1052.5 L626.1,1053.5 L627.7,1054.5 L629.4,1055.4 L631.1,1056.2 L632.9,1057.0 L634.7,1057.7 L636.5,1058.4 L638.4,1059.1 L640.3,1059.7 L642.2,1060.2 L644.1,1060.7 L646.1,1061.3 L648.0,1061.7 L650.0,1062.2 L651.9,1062.7 L653.9,1063.1 L655.9,1063.5 L657.8,1063.9 L659.8,1064.3 L661.7,1064.7 L663.7,1065.1 L665.7,1065.5 L667.6,1065.8 L669.6,1066.1 L671.5,1066.4 L673.5,1066.8 L675.5,1067.0 L677.4,1067.3 L679.4,1067.6 L681.4,1067.8 L683.3,1068.1 L685.3,1068.3 L687.2,1068.5 L689.2,1068.7 L691.2,1068.9 L693.1,1069.0 L695.1,1069.2 L697.0,1069.3 L699.0,1069.5 L700.9,1069.6 L702.9,1069.7 L704.8,1069.8 L706.8,1069.8 L708.7,1069.9 L710.7,1070.0 L712.6,1070.0 L714.6,1070.0 L716.5,1070.0 L718.4,1070.0 L720.4,1070.0 L722.3,1070.0 L724.2,1070.0 L726.1,1069.9 L728.1,1069.8 L729.9,1067.8 L731.8,1067.3 L733.7,1067.0 L735.6,1067.0 L737.5,1067.1 L739.4,1067.3 L741.4,1067.7 L743.3,1068.1 L745.2,1068.5 L747.2,1068.9 L749.1,1069.3 L751.1,1069.7 L753.0,1070.0 L755.0,1070.3 L757.0,1070.6 L758.9,1070.9 L760.9,1071.1 L762.9,1071.4 L764.8,1071.6 L766.8,1071.7 L768.8,1071.9 L770.8,1072.1 L772.8,1072.2 L774.8,1072.3 L776.7,1072.4 L778.7,1072.5 L780.7,1072.6 L782.7,1072.7 L784.7,1072.7 L786.7,1072.8 L788.7,1072.8 L790.7,1072.8 L792.7,1072.9 L794.7,1072.9 L796.7,1072.9 L798.7,1072.9 L800.7,1072.9 L802.7,1072.9 L804.7,1072.9 L806.7,1072.8 L808.7,1072.8 L810.7,1072.8 L812.7,1072.7 L814.7,1072.7 L816.7,1072.6 L818.7,1072.6 L820.7,1072.5 L822.7,1072.4 L824.7,1072.3 L826.7,1072.2 L828.7,1072.1 L830.7,1072.0 L832.7,1071.8 L834.7,1071.7 L836.7,1071.5 L838.7,1071.4 L840.7,1071.3 L842.7,1071.1 L844.7,1071.0 L846.7,1070.9 L848.7,1070.8 L850.7,1070.8 L852.7,1070.8 L854.7,1070.8 L856.6,1070.9 L858.6,1071.0 L860.6,1071.1 L862.6,1071.4 L864.5,1071.6 L866.5,1071.9 L868.5,1072.3 L870.4,1072.7 L872.4,1073.1 L874.3,1073.5 L876.3,1073.9 L878.2,1074.3 L880.2,1074.7 L882.2,1075.1 L884.1,1075.5 L886.1,1075.8 L888.1,1076.1 L890.0,1076.3 L892.0,1076.5 L894.0,1076.6 L896.0,1076.6 L898.0,1076.6 L900.0,1076.5 L902.1,1076.2 L904.1,1075.9 L906.1,1075.4 L908.2,1074.8 L911.3,1045.3 L913.5,1036.3 L917.3,1059.0 L924.9,1063.5 L933.9,1072.6 L936.9,1073.3 L939.8,1073.5 L942.8,1073.7 L945.8,1073.9 L948.8,1074.1 L951.8,1074.2 L954.8,1074.3 L957.8,1074.4 L960.8,1074.5 L963.8,1074.6 L966.7,1074.6 L969.7,1074.7 L972.7,1074.7 L975.7,1074.7 L978.7,1074.7 L981.7,1074.7 L984.7,1074.7 L987.7,1074.7 L990.7,1074.7 L993.7,1074.6 L996.7,1074.6 L999.7,1074.6 L1002.7,1074.5 L1005.7,1074.5 L1008.7,1074.4 L1011.7,1074.4 L1014.7,1074.4 L1017.7,1074.3 L1020.7,1074.3 L1023.7,1074.2 L1026.7,1074.2 L1029.7,1074.1 L1032.7,1074.1 L1035.7,1074.0 L1038.7,1074.0 L1041.7,1073.9 L1044.7,1073.9 L1047.7,1073.8 L1050.7,1073.8 L1053.7,1073.7 L1056.7,1073.7 L1059.7,1073.6 L1062.7,1073.5 L1065.7,1073.5 L1068.7,1073.4 L1071.7,1073.3 L1074.7,1073.3 L1077.7,1073.2 L1080.6,1073.1 L1083.6,1073.1 L1086.6,1073.0 L1089.6,1072.9 L1092.6,1072.9 L1095.6,1072.8 L1098.6,1072.7 L1101.6,1072.6 L1104.6,1072.5 L1107.6,1072.5 L1110.6,1072.4 L1113.6,1072.3 L1116.6,1072.2 L1119.6,1072.1 L1122.6,1072.0 L1125.6,1072.0 L1128.6,1071.9 L1131.6,1071.8 L1134.6,1071.7 L1137.6,1071.6 L1140.6,1071.5 L1143.6,1071.4 L1146.6,1071.3 L1149.6,1071.2 L1152.6,1071.1 L1155.6,1071.0 L1158.6,1070.9 L1161.6,1070.8 L1164.6,1070.7 L1167.6,1070.5 L1170.5,1070.4 L1173.5,1070.3 L1176.5,1070.2 L1179.5,1070.1 L1182.5,1070.0 L1185.5,1069.8 L1188.5,1069.7 L1191.5,1069.6 L1194.5,1069.5 L1197.5,1069.3 L1200.5,1069.2 L1203.5,1069.1 L1206.5,1069.0 L1209.5,1068.8 L1212.5,1068.7 L1215.5,1068.5 L1218.5,1068.4 L1221.5,1068.3 L1224.5,1068.1 L1227.5,1068.0 L1230.4,1067.8 L1233.4,1067.7 L1236.4,1067.5 L1239.4,1067.4 L1242.4,1067.2 L1245.4,1067.1 L1248.4,1066.9 L1251.4,1066.7 L1254.4,1066.6 L1257.4,1066.4 L1260.4,1066.3 L1263.4,1066.1 L1266.4,1065.9 L1269.4,1065.7 L1272.3,1065.6 L1275.3,1065.4 L1278.3,1065.2 L1281.3,1065.0 L1284.3,1064.9 L1287.3,1064.7 L1290.3,1064.5 L1293.3,1064.3 L1296.3,1064.1 L1299.3,1063.9 L1302.3,1063.7 L1305.3,1063.5 L1308.2,1063.3 L1311.2,1063.1 L1314.2,1062.9 L1317.2,1062.7 L1320.2,1062.5 L1323.2,1062.3 L1326.2,1062.1 L1329.2,1061.9 L1332.2,1061.7 L1335.2,1061.5 L1338.1,1061.3 L1341.1,1061.0 L1344.1,1060.8 L1347.1,1060.6 L1350.1,1060.4 L1353.1,1060.1 L1356.1,1059.9 L1359.1,1059.7 L1362.1,1059.5 L1365.1,1059.2 L1368.0,1059.0 L1371.0,1058.8 L1374.0,1058.5 L1377.0,1058.3 L1380.0,1058.1 L1383.0,1057.8 L1386.0,1057.6 L1389.0,1057.3 L1391.9,1057.1 L1394.9,1056.9 L1397.9,1056.6 L1400.9,1056.4 L1403.9,1056.1 L1406.9,1055.9 L1409.9,1055.6 L1412.9,1055.4 L1415.8,1055.1 L1418.8,1054.9 L1421.8,1054.6 L1424.8,1054.3 L1427.8,1054.1 L1430.8,1053.8 L1433.8,1053.6 L1436.8,1053.3 L1439.7,1053.0 L1442.7,1052.8 L1445.7,1052.5 L1448.7,1052.3 L1451.7,1052.0 L1454.7,1051.7 L1457.7,1051.5 L1460.6,1051.2 L1463.6,1050.9 L1466.6,1050.6 L1469.6,1050.4 L1472.6,1050.1 L1475.6,1049.8 L1478.6,1049.6 L1481.5,1049.3 L1484.5,1049.0 L1487.5,1048.7 L1490.5,1048.5 L1493.5,1048.2 L1496.5,1047.9 L1499.5,1047.6 L1502.4,1047.3 L1505.4,1047.1 L1508.4,1046.8 L1511.4,1046.5 L1514.4,1046.2 L1517.4,1045.9 L1520.3,1045.7 L1523.3,1045.4 L1526.3,1045.1 L1529.3,1044.8 L1532.3,1044.5 L1535.3,1044.2 L1538.3,1044.0 L1541.2,1043.7 L1544.2,1043.4 L1547.2,1043.1 L1550.2,1042.8 L1553.2,1042.5 L1556.2,1042.3 L1559.1,1042.0 L1562.1,1041.7 L1565.1,1041.4 L1568.1,1041.1 L1571.1,1040.8 L1574.1,1040.5 L1577.1,1040.3 L1580.0,1040.0 L1583.0,1039.7 L1586.0,1039.4 L1589.0,1039.1 L1592.0,1038.8 L1595.0,1038.5 L1597.9,1038.2 L1600.9,1038.0 L1603.9,1037.7 L1606.9,1037.4 L1609.9,1037.1 L1612.9,1036.8 L1615.8,1036.5 L1618.8,1036.2 L1621.8,1035.9 L1624.8,1035.7 L1627.8,1035.4 L1630.8,1035.1 L1633.8,1034.8 L1636.7,1034.5 L1639.7,1034.2 L1642.7,1033.9 L1645.7,1033.6 L1648.7,1033.4 L1651.7,1033.1 L1654.6,1032.8 L1657.6,1032.5 L1660.6,1032.2 L1663.6,1031.9 L1666.6,1031.6 L1669.6,1031.3 L1672.5,1031.0 L1675.5,1030.8 L1678.5,1030.5 L1681.5,1030.2 L1684.5,1029.9 L1687.5,1029.6 L1690.4,1029.3 L1693.4,1029.0 L1696.4,1028.7 L1699.4,1028.4 L1702.4,1028.1 L1705.4,1027.9 L1708.3,1027.6 L1711.3,1027.3 L1714.3,1027.0 L1717.3,1026.7 L1720.3,1026.4 L1723.3,1026.1 L1726.2,1025.8 L1729.2,1025.5 L1732.2,1025.2 L1735.2,1025.0 L1738.2,1024.7 L1741.2,1024.4 L1744.1,1024.1 L1747.1,1023.8 L1750.1,1023.5 L1753.1,1023.2 L1756.1,1022.9 L1759.1,1022.6 L1762.0,1022.3 L1765.0,1022.0 L1768.0,1021.7 L1771.0,1021.5 L1774.0,1021.2 L1777.0,1020.9 L1779.9,1020.6 L1782.9,1020.3 L1785.9,1020.0 L1788.9,1019.7 L1791.9,1019.4 L1794.9,1019.1 L1797.8,1018.8 L1800.8,1018.5 L1803.8,1018.2 L1806.8,1017.9 L1809.8,1017.6 L1812.8,1017.4 L1815.7,1017.1 L1818.7,1016.8 L1821.7,1016.5 L1824.7,1016.2 L1827.7,1015.9 L1830.7,1015.6 L1833.6,1015.3 L1836.6,1015.0 L1839.6,1014.7 L1842.6,1014.4 L1845.6,1014.1 L1848.6,1013.8 L1851.5,1013.5 L1854.5,1013.2 L1857.5,1012.9 L1860.5,1012.6 L1863.5,1012.3 L1866.5,1012.0 L1869.4,1011.8 L1872.4,1011.5 L1875.4,1011.2 L1878.4,1010.9 L1881.4,1010.6 L1884.4,1010.3 L1887.3,1010.0 L1890.3,1009.7 L1893.3,1009.4 L1896.3,1009.1 L1899.3,1008.8 L1902.3,1008.5 L1905.2,1008.2 L1908.2,1007.9 L1911.2,1007.6 L1914.2,1007.3 L1917.2,1007.0 L1920.1,1006.7 L1923.1,1006.4 L1926.1,1006.1 L1929.1,1005.8 L1932.1,1005.5 L1935.1,1005.2 L1938.0,1004.9 L1941.0,1004.6 L1944.0,1004.3 L1947.0,1004.0 L1950.0,1003.7 L1953.0,1003.4 L1955.9,1003.1 L1958.9,1002.8 L1961.9,1002.5 L1964.9,1002.2 L1967.9,1001.9 L1970.9,1001.6 L1973.8,1001.3 L1976.8,1001.0 L1979.8,1000.7 L1982.8,1000.4 L1985.8,1000.1 L1988.8,999.8 L1991.7,999.5 L1994.7,999.2 L1997.7,998.9 L2000.7,998.6 L2003.7,998.3 L2006.7,998.0 L2009.6,997.7 L2012.6,997.4 L2015.6,997.1 L2018.6,996.8 L2021.6,996.5 L2024.6,996.2 L2027.5,995.9 L2030.5,995.6 L2033.5,995.3 L2036.5,995.0 L2039.5,994.7 L2042.5,994.4 L2045.4,994.1 L2048.4,993.8 L2051.4,993.5" fill="none" stroke="#00e524" stroke-width="5.8" stroke-linejoin="round"/>
<rect x="1672.7" y="506.3" width="284.8" height="110.0" fill="#fff" fill-opacity="0.88"/>
<text x="1668.7" y="593.3" font-family="'Liberation Serif', 'DejaVu Serif', serif" font-size="89" fill="#f40c0c" textLength="287.2" lengthAdjust="spacingAndGlyphs">SbCu30</text>
<rect x="1562.5" y="609.2" width="285.0" height="110.0" fill="#fff" fill-opacity="0.88"/>
<text x="1558.2" y="696.2" font-family="'Liberation Serif', 'DejaVu Serif', serif" font-size="89" fill="#9200b6" textLength="287.5" lengthAdjust="spacingAndGlyphs">SbCu18</text>
<rect x="1290.9" y="742.5" width="286.7" height="110.0" fill="#fff" fill-opacity="0.88"/>
<text x="1287.8" y="829.5" font-family="'Liberation Serif', 'DejaVu Serif', serif" font-size="89" fill="#1010cc" textLength="285.1" lengthAdjust="spacingAndGlyphs">SbCu21</text>
<rect x="1289.7" y="982.5" width="284.3" height="110.0" fill="#fff" fill-opacity="0.88"/>
<text x="1285.3" y="1069.5" font-family="'Liberation Serif', 'DejaVu Serif', serif" font-size="89" fill="#00964a" textLength="288.1" lengthAdjust="spacingAndGlyphs">SbCu26</text>
<rect x="385.5" y="64.4" width="1657.0" height="1186.0" fill="none" stroke="#000" stroke-width="6" stroke-linejoin="round"/>
<line x1="385.5" y1="149.1" x2="408.5" y2="149.1" stroke="#000" stroke-width="6" stroke-linecap="round"/>
<line x1="385.5" y1="233.8" x2="421.5" y2="233.8" stroke="#000" stroke-width="6" stroke-linecap="round"/>
<line x1="385.5" y1="318.5" x2="408.5" y2="318.5" stroke="#000" stroke-width="6" stroke-linecap="round"/>
<line x1="385.5" y1="403.3" x2="421.5" y2="403.3" stroke="#000" stroke-width="6" stroke-linecap="round"/>
<line x1="385.5" y1="488.0" x2="408.5" y2="488.0" stroke="#000" stroke-width="6" stroke-linecap="round"/>
<line x1="385.5" y1="572.7" x2="421.5" y2="572.7" stroke="#000" stroke-width="6" stroke-linecap="round"/>
<line x1="385.5" y1="657.4" x2="408.5" y2="657.4" stroke="#000" stroke-width="6" stroke-linecap="round"/>
<line x1="385.5" y1="742.1" x2="421.5" y2="742.1" stroke="#000" stroke-width="6" stroke-linecap="round"/>
<line x1="385.5" y1="826.8" x2="408.5" y2="826.8" stroke="#000" stroke-width="6" stroke-linecap="round"/>
<line x1="385.5" y1="911.5" x2="421.5" y2="911.5" stroke="#000" stroke-width="6" stroke-linecap="round"/>
<line x1="385.5" y1="996.3" x2="408.5" y2="996.3" stroke="#000" stroke-width="6" stroke-linecap="round"/>
<line x1="385.5" y1="1081.0" x2="421.5" y2="1081.0" stroke="#000" stroke-width="6" stroke-linecap="round"/>
<line x1="385.5" y1="1165.7" x2="408.5" y2="1165.7" stroke="#000" stroke-width="6" stroke-linecap="round"/>
<line x1="523.6" y1="1250.4" x2="523.6" y2="1226.4" stroke="#000" stroke-width="6" stroke-linecap="round"/>
<line x1="661.7" y1="1250.4" x2="661.7" y2="1213.4" stroke="#000" stroke-width="6" stroke-linecap="round"/>
<line x1="799.8" y1="1250.4" x2="799.8" y2="1226.4" stroke="#000" stroke-width="6" stroke-linecap="round"/>
<line x1="937.8" y1="1250.4" x2="937.8" y2="1213.4" stroke="#000" stroke-width="6" stroke-linecap="round"/>
<line x1="1075.9" y1="1250.4" x2="1075.9" y2="1226.4" stroke="#000" stroke-width="6" stroke-linecap="round"/>
<line x1="1214.0" y1="1250.4" x2="1214.0" y2="1213.4" stroke="#000" stroke-width="6" stroke-linecap="round"/>
<line x1="1352.1" y1="1250.4" x2="1352.1" y2="1226.4" stroke="#000" stroke-width="6" stroke-linecap="round"/>
<line x1="1490.2" y1="1250.4" x2="1490.2" y2="1213.4" stroke="#000" stroke-width="6" stroke-linecap="round"/>
<line x1="1628.2" y1="1250.4" x2="1628.2" y2="1226.4" stroke="#000" stroke-width="6" stroke-linecap="round"/>
<line x1="1766.3" y1="1250.4" x2="1766.3" y2="1213.4" stroke="#000" stroke-width="6" stroke-linecap="round"/>
<line x1="1904.4" y1="1250.4" x2="1904.4" y2="1226.4" stroke="#000" stroke-width="6" stroke-linecap="round"/>
<text x="177.0" y="93.2" font-family="'Liberation Serif', 'DejaVu Serif', serif" font-size="89" fill="#000" textLength="149.7" lengthAdjust="spacingAndGlyphs">0.05</text>
<text x="175.6" y="265.0" font-family="'Liberation Serif', 'DejaVu Serif', serif" font-size="89" fill="#000" textLength="147.3" lengthAdjust="spacingAndGlyphs">0.04</text>
<text x="176.5" y="434.5" font-family="'Liberation Serif', 'DejaVu Serif', serif" font-size="89" fill="#000" textLength="150.5" lengthAdjust="spacingAndGlyphs">0.03</text>
<text x="176.5" y="603.9" font-family="'Liberation Serif', 'DejaVu Serif', serif" font-size="89" fill="#000" textLength="151.4" lengthAdjust="spacingAndGlyphs">0.02</text>
<text x="176.6" y="773.3" font-family="'Liberation Serif', 'DejaVu Serif', serif" font-size="89" fill="#000" textLength="144.9" lengthAdjust="spacingAndGlyphs">0.01</text>
<text x="280.1" y="942.7" font-family="'Liberation Serif', 'DejaVu Serif', serif" font-size="89" fill="#000" textLength="48.3" lengthAdjust="spacingAndGlyphs">0</text>
<text x="149.5" y="1112.2" font-family="'Liberation Serif', 'DejaVu Serif', serif" font-size="89" fill="#000" textLength="171.7" lengthAdjust="spacingAndGlyphs">-0.01</text>
<text x="149.4" y="1281.6" font-family="'Liberation Serif', 'DejaVu Serif', serif" font-size="89" fill="#000" textLength="178.6" lengthAdjust="spacingAndGlyphs">-0.02</text>
<text x="361.2" y="1398.6" font-family="'Liberation Serif', 'DejaVu Serif', serif" font-size="91" fill="#000" textLength="46.8" lengthAdjust="spacingAndGlyphs">0</text>
<text x="593.5" y="1398.6" font-family="'Liberation Serif', 'DejaVu Serif', serif" font-size="91" fill="#000" textLength="131.8" lengthAdjust="spacingAndGlyphs">100</text>
<text x="870.2" y="1398.6" font-family="'Liberation Serif', 'DejaVu Serif', serif" font-size="91" fill="#000" textLength="131.2" lengthAdjust="spacingAndGlyphs">200</text>
<text x="1146.8" y="1398.6" font-family="'Liberation Serif', 'DejaVu Serif', serif" font-size="91" fill="#000" textLength="131.0" lengthAdjust="spacingAndGlyphs">300</text>
<text x="1426.8" y="1398.6" font-family="'Liberation Serif', 'DejaVu Serif', serif" font-size="91" fill="#000" textLength="126.0" lengthAdjust="spacingAndGlyphs">400</text>
<text x="1698.4" y="1398.6" font-family="'Liberation Serif', 'DejaVu Serif', serif" font-size="91" fill="#000" textLength="129.5" lengthAdjust="spacingAndGlyphs">500</text>
<text x="1977.1" y="1398.6" font-family="'Liberation Serif', 'DejaVu Serif', serif" font-size="91" fill="#000" textLength="128.1" lengthAdjust="spacingAndGlyphs">600</text>
<text x="1061.4" y="1513.5" font-family="'Liberation Serif', 'DejaVu Serif', serif" font-size="88" fill="#000" textLength="302.2" lengthAdjust="spacingAndGlyphs">Time (s)</text>
<text transform="translate(96.5,1314.8) rotate(-90)" x="183.4" y="0" font-family="'Liberation Serif', 'DejaVu Serif', serif" font-size="88" fill="#000" textLength="948.2" lengthAdjust="spacingAndGlyphs">Open circuit potential (V)</text>
<rect x="1568.3" y="94.6" width="445.2" height="242.8" fill="#fff" stroke="#bdbdbd" stroke-width="5"/>
<line x1="1574" y1="150.9" x2="1834" y2="150.9" stroke="#000" stroke-width="6.5" stroke-dasharray="21.5 25.5"/>
<line x1="1574" y1="283.1" x2="1849" y2="283.1" stroke="#000" stroke-width="6.5" stroke-dasharray="58 62.5"/>
<text x="1904.2" y="179.3" font-family="'Liberation Serif', 'DejaVu Serif', serif" font-size="80" fill="#000" textLength="86.2" lengthAdjust="spacingAndGlyphs">Sb</text>
<text x="1906.2" y="309.5" font-family="'Liberation Serif', 'DejaVu Serif', serif" font-size="80" fill="#000" textLength="98.7" lengthAdjust="spacingAndGlyphs">Cu</text>
</g>
</svg>
</body></html>
